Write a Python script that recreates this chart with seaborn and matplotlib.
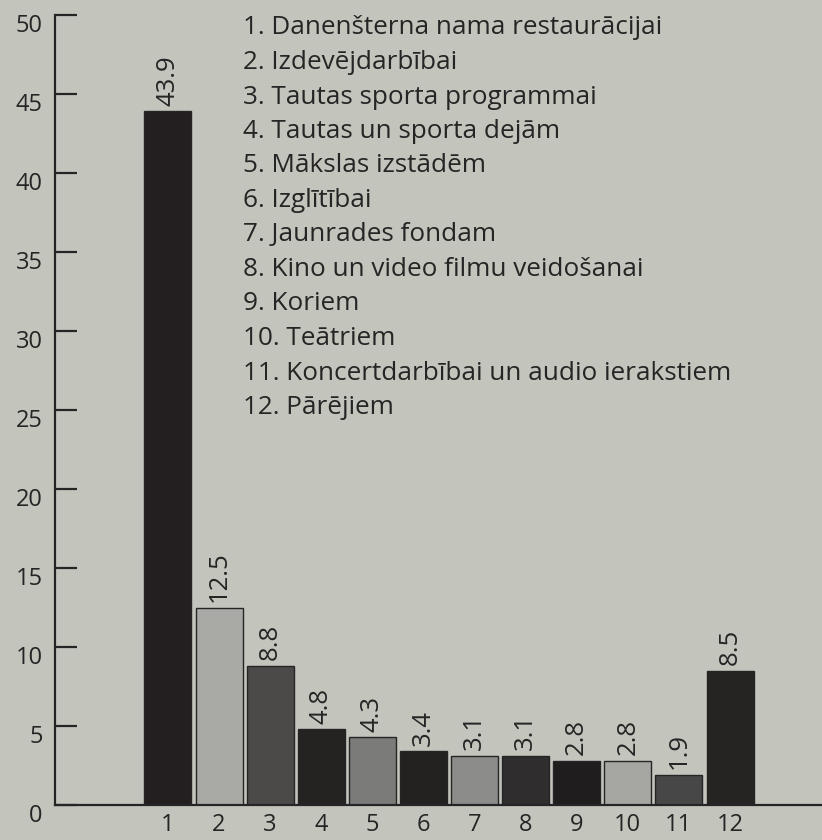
import matplotlib
matplotlib.use("Agg")
import matplotlib.pyplot as plt
import matplotlib.transforms as mtransforms
import seaborn as sns
import pandas as pd

categories = ["1", "2", "3", "4", "5", "6", "7", "8", "9", "10", "11", "12"]
values = [43.9, 12.5, 8.8, 4.8, 4.3, 3.4, 3.1, 3.1, 2.8, 2.8, 1.9, 8.5]
value_labels = ["43.9", "12.5", "8.8", "4.8", "4.3", "3.4", "3.1", "3.1", "2.8", "2.8", "1.9", "8.5"]
bar_colors = ["#231f20", "#a9a9a6", "#4b4a49", "#252222", "#7b7b79", "#242121",
              "#8c8c8a", "#2f2d2d", "#1f1d1d", "#a6a6a3", "#484747", "#262323"]
legend_items = [
    "1. Danenšterna nama restaurācijai",
    "2. Izdevējdarbībai",
    "3. Tautas sporta programmai",
    "4. Tautas un sporta dejām",
    "5. Mākslas izstādēm",
    "6. Izglītībai",
    "7. Jaunrades fondam",
    "8. Kino un video filmu veidošanai",
    "9. Koriem",
    "10. Teātriem",
    "11. Koncertdarbībai un audio ierakstiem",
    "12. Pārējiem",
]
y_ticks = [0, 5, 10, 15, 20, 25, 30, 35, 40, 45, 50]

bg = "#c3c5bd"
ink = "#262424"

sns.set_theme(style="white")
plt.rcParams["font.family"] = ["Open Sans", "DejaVu Sans"]

df = pd.DataFrame({"cat": categories, "val": values})

fig = plt.figure(figsize=(8.22, 8.4), dpi=100, facecolor=bg)
ax = fig.add_axes([55 / 822, 35 / 840, 1 - 55 / 822, (805 - 15) / 840])
ax.set_facecolor(bg)

sns.barplot(data=df, x="cat", y="val", hue="cat", palette=bar_colors,
            order=categories, hue_order=categories, legend=False,
            width=0.92, edgecolor=ink, linewidth=1.0, saturation=1, ax=ax)

ax.set_xlim(-2.21, 12.8)
ax.set_ylim(0, 50)
ax.set_xlabel("")
ax.set_ylabel("")

for i, (v, lab) in enumerate(zip(values, value_labels)):
    ax.annotate(lab, (i, v), xytext=(0, 4), textcoords="offset points",
                rotation=90, ha="center", va="bottom", fontsize=18.5,
                color=ink)

ax.set_yticks(y_ticks)
ax.set_yticklabels([str(t) for t in y_ticks])
ax.tick_params(axis="y", left=True, direction="in", length=16, width=1.6,
               color=ink, labelsize=17, labelcolor=ink, pad=9)
ax.tick_params(axis="x", bottom=False, length=0, labelsize=17,
               labelcolor=ink, pad=6)

offset = mtransforms.ScaledTranslation(0, -8 / 100, fig.dpi_scale_trans)
for lbl in ax.get_yticklabels():
    lbl.set_transform(lbl.get_transform() + offset)

for s in ["top", "right"]:
    ax.spines[s].set_visible(False)
ax.spines["left"].set_color(ink)
ax.spines["left"].set_linewidth(1.6)
ax.spines["bottom"].set_color(ink)
ax.spines["bottom"].set_linewidth(1.6)

y0 = 1 - 28 / 840
step = 34.5 / 840
for k, item in enumerate(legend_items):
    fig.text(243 / 822, y0 - k * step, item, ha="left", va="center",
             fontsize=18.8, color=ink)

fig.savefig("out.png", dpi=100, facecolor=bg)
